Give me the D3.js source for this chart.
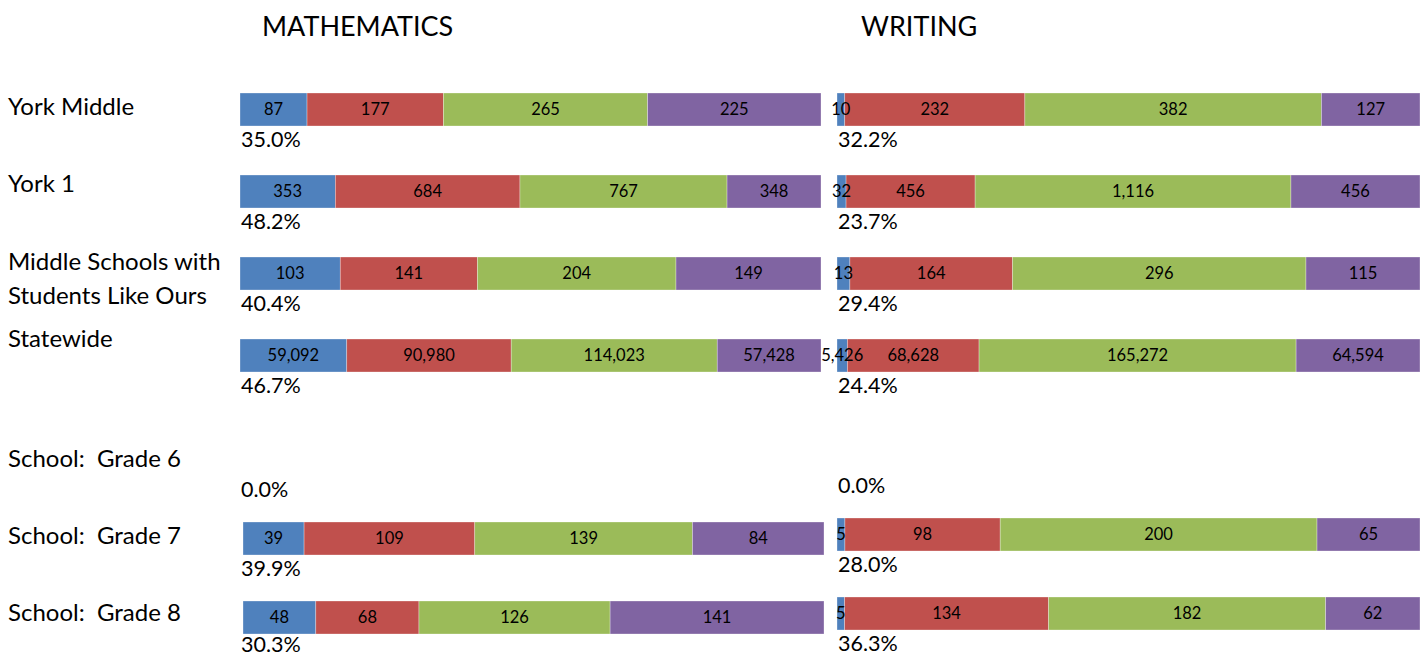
<!DOCTYPE html>
<html>
<head>
<meta charset="utf-8">
<script src="https://cdn.jsdelivr.net/npm/d3@7"></script>
<style>
  body { margin: 0; background: #fff; }
  text { font-family: Lato, "Liberation Sans", sans-serif; }
</style>
</head>
<body>
<svg width="1426" height="658"></svg>
<script>
// rows and labels
const topRows = ["York Middle", "York 1", "Middle Schools with|Students Like Ours", "Statewide"];
const gradeRows = ["School:  Grade 6", "School:  Grade 7", "School:  Grade 8"];
const levels = ["Level 1", "Level 2", "Level 3", "Level 4"];
const colors = ["#4F81BD", "#C0504D", "#9BBB59", "#8064A2"];

// counts per level, one array per row (null = no bar)
const mathValues = [
    [87, 177, 265, 225],
    [353, 684, 767, 348],
    [103, 141, 204, 149],
    [59092, 90980, 114023, 57428],
    null,
    [39, 109, 139, 84],
    [48, 68, 126, 141]
];
const writingValues = [
    [10, 232, 382, 127],
    [32, 456, 1116, 456],
    [13, 164, 296, 115],
    [5426, 68628, 165272, 64594],
    null,
    [5, 98, 200, 65],
    [5, 134, 182, 62]
];
const mathPct = ["35.0%", "48.2%", "40.4%", "46.7%", "0.0%", "39.9%", "30.3%"];
const writingPct = ["32.2%", "23.7%", "29.4%", "24.4%", "0.0%", "28.0%", "36.3%"];

const svg = d3.select("svg");
const barH = 33;
const allRows = topRows.concat(gradeRows);

// bar rows: two groups
const yTop = d3.scaleBand().domain(topRows).range([68.5, 68.5 + 82 * 4]);
const yGrade = d3.scaleBand().domain(gradeRows).range([418, 418 + 79 * 3]);
function barTop(i, shift) {
    const name = allRows[i];
    if (i < 4) return yTop(name) + (yTop.bandwidth() - barH) / 2;
    return yGrade(name) + (yGrade.bandwidth() - barH) / 2 + shift;
}

// row label baselines
const labTop = d3.scalePoint().domain(topRows).range([115, 347]);
const labGrade = d3.scalePoint().domain(gradeRows).range([467, 621]);

allRows.forEach((name, i) => {
    const lines = name.split("|");
    const y = i < 4 ? labTop(name) : labGrade(name);
    const t = svg.append("text")
        .attr("font-size", 24)
        .attr("fill", "#000")
        .style("white-space", "pre");
    lines.forEach((l, k) => {
        t.append("tspan").attr("x", 8).attr("y", y + k * 34).text(l);
    });
});

const fmt = d3.format(",");

function drawPanel(title, titleX, values, pcts, range, gradeRange, gradeShift) {
    const g = svg.append("g");
    g.append("text")
        .attr("x", titleX)
        .attr("y", 36)
        .attr("font-size", 27)
        .text(title);

    values.forEach((row, i) => {
        const y = barTop(i, gradeShift);
        const r = i < 4 ? range : gradeRange;
        if (row) {
            const total = d3.sum(row);
            const x = d3.scaleLinear().domain([0, total]).range(r);
            let cum = 0;
            const segs = row.map((v, k) => { const s = { v, k, start: cum }; cum += v; return s; });
            g.selectAll(null).data(segs).enter().append("rect")
                .attr("x", d => x(d.start))
                .attr("y", y)
                .attr("width", d => x(d.start + d.v) - x(d.start))
                .attr("height", barH)
                .attr("fill", d => colors[d.k])
                .attr("stroke", "#fff")
                .attr("stroke-opacity", 0.5)
                .attr("stroke-width", 0.6);
            g.selectAll(null).data(segs).enter().append("text")
                .attr("x", d => x(d.start + d.v / 2))
                .attr("y", y + barH / 2)
                .attr("dy", "0.36em")
                .attr("text-anchor", "middle")
                .attr("font-size", 16.5)
                .text(d => fmt(d.v));
        }
        g.append("text")
            .attr("x", range[0] + 1)
            .attr("y", Math.min(y + barH + 21, 652))
            .attr("font-size", 21.5)
            .text(pcts[i]);
    });
}

drawPanel("MATHEMATICS", 262, mathValues, mathPct, [240, 821], [243, 824], 2);
drawPanel("WRITING", 861, writingValues, writingPct, [837, 1420], [837, 1420], -2);
</script>
</body>
</html>
